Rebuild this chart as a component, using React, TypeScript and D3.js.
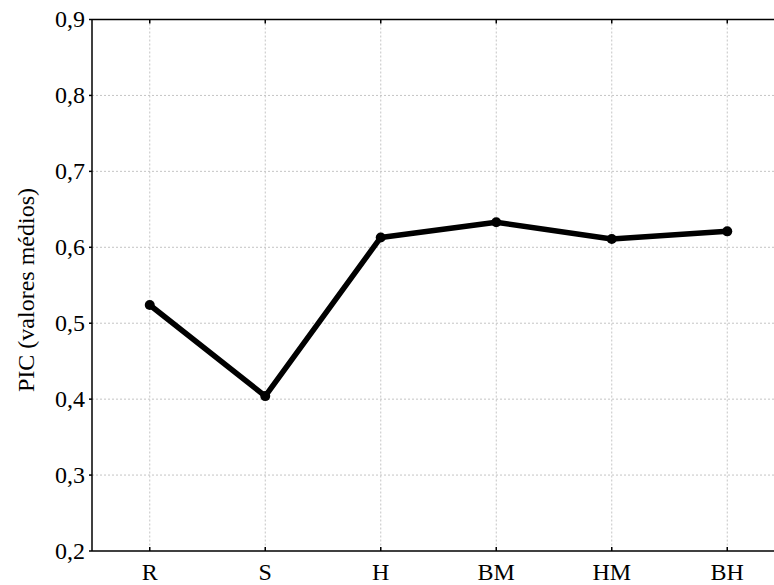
import React from "react";
import * as d3 from "d3";

const categories = ["R", "S", "H", "BM", "HM", "BH"];
const values = [0.524, 0.404, 0.613, 0.633, 0.611, 0.621];
const yTicks = [0.2, 0.3, 0.4, 0.5, 0.6, 0.7, 0.8, 0.9];
const yLabel = "PIC (valores médios)";

const W = 774;
const H = 585;
const M = { left: 92, top: 19.5, bottom: 551, right: 785 };

export default function App() {
  const x = d3.scalePoint<string>().domain(categories).range([M.left, M.right]).padding(0.5);
  const y = d3.scaleLinear().domain([0.2, 0.9]).range([M.bottom, M.top]);
  const line = d3
    .line<number>()
    .x((_, i) => x(categories[i]) as number)
    .y((d) => y(d));
  const font = "Liberation Serif, Times New Roman, serif";
  return (
    <svg width={W} height={H} style={{ position: "absolute", left: 0, top: 0 }} fontFamily={font}>
      <rect x={0} y={0} width={W} height={H} fill="white" />
      {yTicks.slice(1, -1).map((t) => (
        <line key={"gy" + t} x1={M.left} x2={M.right} y1={y(t)} y2={y(t)} stroke="#c4c4c4" strokeWidth={1} strokeDasharray="2,2" />
      ))}
      {categories.map((c) => (
        <line key={"gx" + c} x1={x(c)} x2={x(c)} y1={M.top} y2={M.bottom} stroke="#c4c4c4" strokeWidth={1} strokeDasharray="2,2" />
      ))}
      <line x1={M.left} x2={M.right} y1={M.top} y2={M.top} stroke="black" strokeWidth={1.5} />
      <line x1={M.left} x2={M.right} y1={M.bottom} y2={M.bottom} stroke="black" strokeWidth={1.5} />
      <line x1={M.left} x2={M.left} y1={M.top} y2={M.bottom} stroke="black" strokeWidth={1.5} />
      {yTicks.map((t) => (
        <g key={"ty" + t}>
          <line x1={M.left - 3} x2={M.left} y1={y(t)} y2={y(t)} stroke="black" strokeWidth={1.5} />
          <text x={85} y={y(t) + 7.5} textAnchor="end" fontSize={24}>
            {d3.format(".1f")(t).replace(".", ",")}
          </text>
        </g>
      ))}
      {categories.map((c) => (
        <g key={"tx" + c}>
          <line x1={x(c)} x2={x(c)} y1={M.bottom} y2={M.bottom - 4} stroke="black" strokeWidth={1.5} />
          <line x1={x(c)} x2={x(c)} y1={M.top} y2={M.top + 4} stroke="black" strokeWidth={1.5} />
          <text x={x(c)} y={580} textAnchor="middle" fontSize={24}>
            {c}
          </text>
        </g>
      ))}
      <text transform={`translate(34,290) rotate(-90)`} textAnchor="middle" fontSize={24}>
        {yLabel}
      </text>
      <path d={line(values) as string} fill="none" stroke="black" strokeWidth={5.5} strokeLinejoin="round" />
      {values.map((v, i) => (
        <circle key={"p" + i} cx={x(categories[i])} cy={y(v)} r={5} fill="black" />
      ))}
    </svg>
  );
}
